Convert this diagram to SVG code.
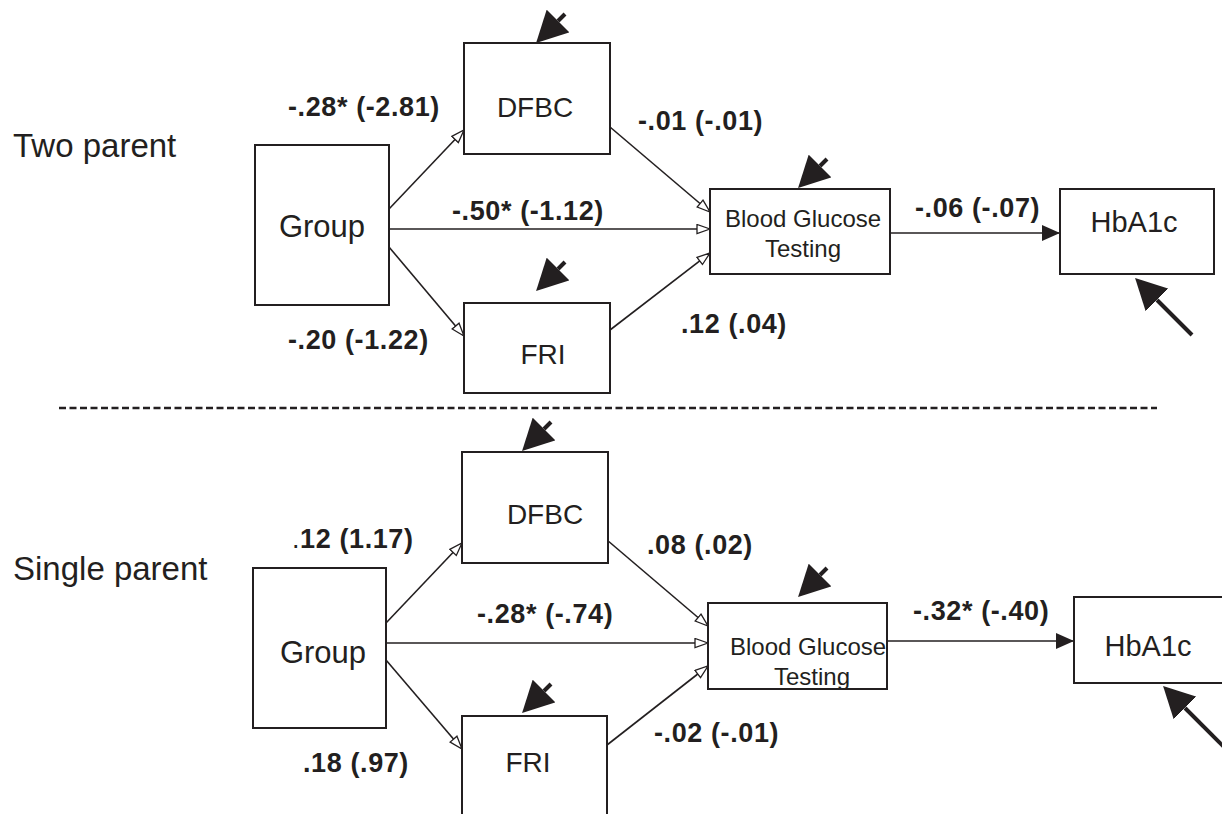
<svg xmlns="http://www.w3.org/2000/svg" width="1222" height="814" viewBox="0 0 1222 814">
<style>
.box{fill:#fff;stroke:#231f20;stroke-width:2}
.t{font-family:"Liberation Sans",Arial,sans-serif;fill:#231f20}
.lbl{font-family:"Liberation Sans",Arial,sans-serif;fill:#231f20;font-weight:bold;font-size:27px;letter-spacing:0.6px}
.c{fill:none;stroke:#231f20;stroke-width:1.6}
.e{fill:none;stroke:#231f20;stroke-width:4}
</style>
<defs>
<marker id="open" markerUnits="userSpaceOnUse" markerWidth="15" markerHeight="11" viewBox="-1 -1 15 11" refX="13" refY="4.5" orient="auto"><path d="M0,0 L13,4.5 L0,9 z" fill="#fff" stroke="#231f20" stroke-width="1.3"/></marker>
<marker id="solid" markerUnits="userSpaceOnUse" markerWidth="18" markerHeight="16" viewBox="0 0 18 16" refX="18" refY="8" orient="auto"><path d="M0,0 L18,8 L0,16 z" fill="#231f20"/></marker>
<marker id="err" markerUnits="userSpaceOnUse" markerWidth="31" markerHeight="32" viewBox="0 0 31 32" refX="0" refY="16" orient="auto"><path d="M0,0 L31,16 L0,32 z" fill="#231f20"/></marker>
</defs>

<text class="t" x="13" y="157" font-size="33">Two parent</text>
<text class="t" x="13" y="580" font-size="33">Single parent</text>

<line x1="59" y1="408" x2="1157" y2="408" stroke="#231f20" stroke-width="2.5" stroke-dasharray="7 3.5"/>

<g id="connectors">
<line class="c" x1="389" y1="209" x2="464" y2="130" marker-end="url(#open)"/>
<line class="c" x1="389" y1="229" x2="710" y2="229" marker-end="url(#open)"/>
<line class="c" x1="389" y1="247" x2="464" y2="336" marker-end="url(#open)"/>
<line class="c" x1="610" y1="127" x2="710" y2="212" marker-end="url(#open)"/>
<line class="c" x1="610" y1="330" x2="710" y2="253" marker-end="url(#open)"/>
<line class="c" x1="885" y1="233" x2="1060" y2="233" marker-end="url(#solid)"/>
<line class="c" x1="386" y1="623" x2="462" y2="543" marker-end="url(#open)"/>
<line class="c" x1="386" y1="643" x2="708" y2="643" marker-end="url(#open)"/>
<line class="c" x1="386" y1="660" x2="462" y2="749" marker-end="url(#open)"/>
<line class="c" x1="607" y1="540" x2="708" y2="626" marker-end="url(#open)"/>
<line class="c" x1="607" y1="745" x2="708" y2="666" marker-end="url(#open)"/>
<line class="c" x1="887" y1="641" x2="1074" y2="641" marker-end="url(#solid)"/>
<line class="e" x1="565" y1="14" x2="558" y2="21" marker-end="url(#err)"/>
<line class="e" x1="827" y1="159" x2="820" y2="166" marker-end="url(#err)"/>
<line class="e" x1="565" y1="262" x2="558" y2="269" marker-end="url(#err)"/>
<line class="e" x1="1192" y1="335" x2="1157" y2="300" marker-end="url(#err)"/>
<line class="e" x1="551" y1="422" x2="544" y2="429" marker-end="url(#err)"/>
<line class="e" x1="551" y1="684" x2="544" y2="691" marker-end="url(#err)"/>
<line class="e" x1="827" y1="568" x2="820" y2="575" marker-end="url(#err)"/>
<line class="e" x1="1250" y1="773" x2="1185" y2="708" marker-end="url(#err)"/>
</g>

<g id="labels">
<text class="lbl" x="288" y="116">-.28* (-2.81)</text>
<text class="lbl" x="452" y="220">-.50* (-1.12)</text>
<text class="lbl" x="288" y="349">-.20 (-1.22)</text>
<text class="lbl" x="638" y="130">-.01 (-.01)</text>
<text class="lbl" x="681" y="333">.12 (.04)</text>
<text class="lbl" x="915" y="217">-.06 (-.07)</text>
<text class="lbl" x="292" y="548"><tspan font-weight="normal">.</tspan>12 (1.17)</text>
<text class="lbl" x="477" y="623">-.28* (-.74)</text>
<text class="lbl" x="303" y="772">.18 (.97)</text>
<text class="lbl" x="647" y="554">.08 (.02)</text>
<text class="lbl" x="654" y="742">-.02 (-.01)</text>
<text class="lbl" x="913" y="620">-.32* (-.40)</text>
</g>

<g id="group-top"><rect class="box" x="255" y="145" width="134" height="160"/><text class="t" x="322" y="237" font-size="31" text-anchor="middle">Group</text></g>
<g id="dfbc-top"><rect class="box" x="464" y="43" width="146" height="111"/><text class="t" x="535" y="117" font-size="28" text-anchor="middle">DFBC</text></g>
<g id="fri-top"><rect class="box" x="464" y="303" width="146" height="90"/><text class="t" x="543" y="364" font-size="28" text-anchor="middle">FRI</text></g>
<g id="bgt-top"><rect class="box" x="710" y="189" width="180" height="85"/><text class="t" x="725" y="227" font-size="24">Blood Glucose</text><text class="t" x="803" y="257" font-size="24" text-anchor="middle">Testing</text></g>
<g id="hba1c-top"><rect class="box" x="1060" y="189" width="154" height="85"/><text class="t" x="1134" y="232" font-size="29" text-anchor="middle">HbA1c</text></g>

<g id="group-bottom"><rect class="box" x="253" y="568" width="133" height="160"/><text class="t" x="323" y="663" font-size="31" text-anchor="middle">Group</text></g>
<g id="dfbc-bottom"><rect class="box" x="462" y="452" width="146" height="111"/><text class="t" x="545" y="524" font-size="28" text-anchor="middle">DFBC</text></g>
<g id="fri-bottom"><rect class="box" x="462" y="716" width="145" height="120"/><text class="t" x="528" y="772" font-size="28" text-anchor="middle">FRI</text></g>
<g id="bgt-bottom"><rect class="box" x="708" y="603" width="179" height="86"/><text class="t" x="730" y="655" font-size="24">Blood Glucose</text><text class="t" x="812" y="685" font-size="24" text-anchor="middle">Testing</text></g>
<g id="hba1c-bottom"><rect class="box" x="1074" y="597" width="170" height="86"/><text class="t" x="1148" y="656" font-size="29" text-anchor="middle">HbA1c</text></g>
</svg>
